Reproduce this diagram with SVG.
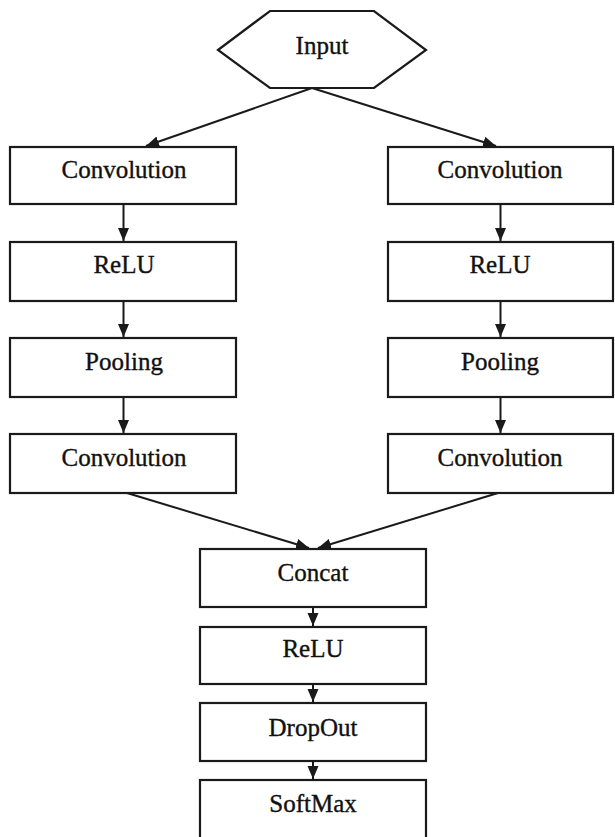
<svg xmlns="http://www.w3.org/2000/svg" width="615" height="837" viewBox="0 0 615 837">
<style>
.box{fill:#fff;stroke:#1a1a1a;stroke-width:2.2}
.lbl{font-family:"Liberation Serif","Times New Roman",serif;font-size:25px;fill:#111;stroke:#111;stroke-width:0.35;text-anchor:middle}
.edge{stroke:#1a1a1a;stroke-width:2;fill:none;marker-end:url(#ah)}
</style>
<defs>
<marker id="ah" markerUnits="userSpaceOnUse" markerWidth="14" markerHeight="12" refX="13" refY="6" orient="auto">
<path d="M0,0.5 L13,6 L0,11.5 z" fill="#1a1a1a"/>
</marker>
</defs>
<rect width="615" height="837" fill="#fff"/>
<g id="connectors">
<line class="edge" x1="312" y1="88" x2="146" y2="146"/>
<line class="edge" x1="312" y1="88" x2="496" y2="146"/>
<line class="edge" x1="123.5" y1="204" x2="123.5" y2="241"/>
<line class="edge" x1="123.5" y1="301" x2="123.5" y2="337"/>
<line class="edge" x1="123.5" y1="397" x2="123.5" y2="433"/>
<line class="edge" x1="500.5" y1="204" x2="500.5" y2="241"/>
<line class="edge" x1="500.5" y1="301" x2="500.5" y2="337"/>
<line class="edge" x1="500.5" y1="397" x2="500.5" y2="433"/>
<line class="edge" x1="127" y1="493" x2="309" y2="548"/>
<line class="edge" x1="498" y1="493" x2="318" y2="548"/>
<line class="edge" x1="313" y1="607" x2="313" y2="626"/>
<line class="edge" x1="313" y1="684" x2="313" y2="702"/>
<line class="edge" x1="313" y1="761" x2="313" y2="779"/>
</g>
<g id="input">
<polygon class="box" points="218,50 270,11 374,11 426,50 374,88 270,88"/>
<text class="lbl" x="322" y="54">Input</text>
</g>
<g id="conv1_left">
<rect class="box" x="10" y="147" width="226" height="57"/>
<text class="lbl" x="124" y="178">Convolution</text>
</g>
<g id="relu_left">
<rect class="box" x="10" y="242" width="226" height="59"/>
<text class="lbl" x="124" y="273">ReLU</text>
</g>
<g id="pool_left">
<rect class="box" x="10" y="338" width="226" height="59"/>
<text class="lbl" x="124" y="370">Pooling</text>
</g>
<g id="conv2_left">
<rect class="box" x="10" y="434" width="226" height="59"/>
<text class="lbl" x="124" y="466">Convolution</text>
</g>
<g id="conv1_right">
<rect class="box" x="388" y="147" width="225" height="57"/>
<text class="lbl" x="500" y="178">Convolution</text>
</g>
<g id="relu_right">
<rect class="box" x="388" y="242" width="225" height="59"/>
<text class="lbl" x="500" y="273">ReLU</text>
</g>
<g id="pool_right">
<rect class="box" x="388" y="338" width="225" height="59"/>
<text class="lbl" x="500" y="370">Pooling</text>
</g>
<g id="conv2_right">
<rect class="box" x="388" y="434" width="225" height="59"/>
<text class="lbl" x="500" y="466">Convolution</text>
</g>
<g id="concat">
<rect class="box" x="200" y="549" width="226" height="58"/>
<text class="lbl" x="313" y="581">Concat</text>
</g>
<g id="relu_merge">
<rect class="box" x="200" y="627" width="226" height="57"/>
<text class="lbl" x="313" y="657">ReLU</text>
</g>
<g id="dropout">
<rect class="box" x="200" y="703" width="226" height="58"/>
<text class="lbl" x="313" y="736">DropOut</text>
</g>
<g id="softmax">
<rect class="box" x="200" y="780" width="226" height="60"/>
<text class="lbl" x="313" y="812">SoftMax</text>
</g>
</svg>
